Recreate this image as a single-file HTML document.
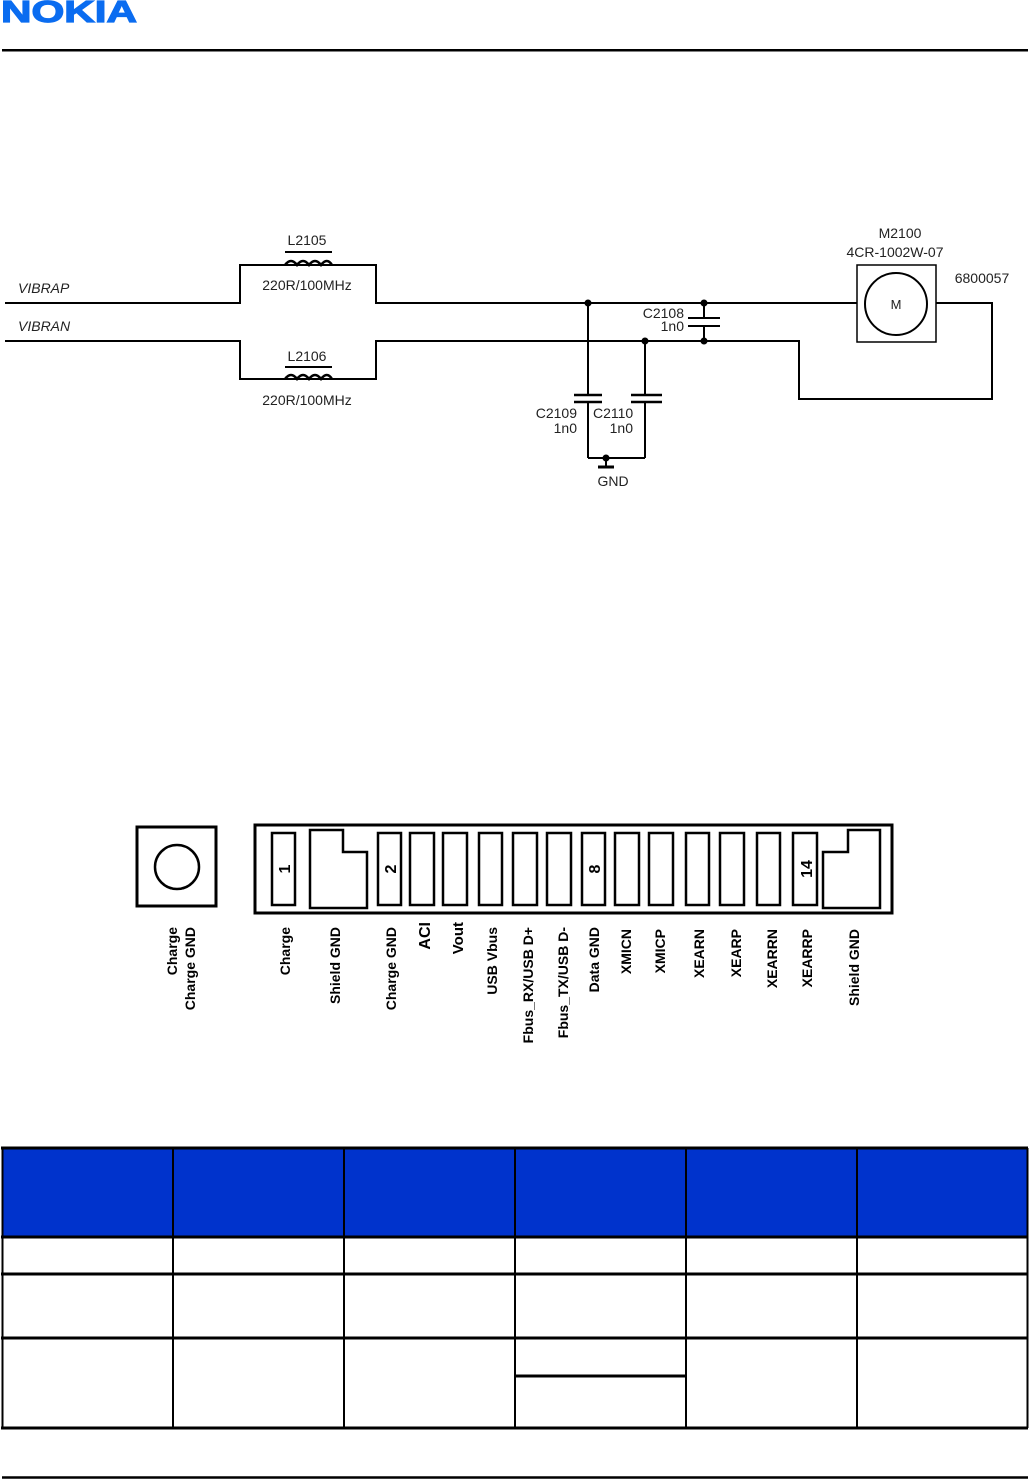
<!DOCTYPE html>
<html><head><meta charset="utf-8"><style>
html,body{margin:0;padding:0;background:#fff}
svg{display:block}
</style></head><body>
<svg width="1030" height="1479" viewBox="0 0 1030 1479" xmlns="http://www.w3.org/2000/svg" font-family="Liberation Sans, sans-serif">
<rect width="1030" height="1479" fill="#fff"/>
<text x="1" y="22" font-size="31" font-weight="bold" fill="#0a6cf0" stroke="#0a6cf0" stroke-width="1.2" textLength="136" lengthAdjust="spacingAndGlyphs">NOKIA</text>
<rect x="2" y="49" width="1026" height="2.5" fill="#000"/>

<g fill="none" stroke="#000" stroke-width="2">
<polyline points="5,303 240,303 240,265 376,265 376,303 857,303"/>
<polyline points="5,341 240,341 240,379 376,379 376,341 799,341 799,399 992,399 992,303 936,303"/>
<line x1="285" y1="252" x2="332" y2="252"/>
<line x1="285" y1="367" x2="332" y2="367"/>
<path d="M285,265 q6,-8 12,0 q6,-8 12,0 q6,-8 12,0 q6,-8 11,0" stroke-width="2.5"/>
<path d="M285,379 q6,-8 12,0 q6,-8 12,0 q6,-8 12,0 q6,-8 11,0" stroke-width="2.5"/>
<line x1="704" y1="303" x2="704" y2="318"/><line x1="704" y1="326" x2="704" y2="341"/>
<line x1="688" y1="318" x2="720" y2="318"/><line x1="688" y1="326" x2="720" y2="326"/>
<line x1="588" y1="303" x2="588" y2="395"/><line x1="588" y1="402" x2="588" y2="458"/>
<line x1="574" y1="395" x2="602" y2="395" stroke-width="2.5"/><line x1="574" y1="402" x2="602" y2="402" stroke-width="2.5"/>
<line x1="645" y1="341" x2="645" y2="395"/><line x1="645" y1="402" x2="645" y2="458"/>
<line x1="631" y1="395" x2="662" y2="395" stroke-width="2.5"/><line x1="631" y1="402" x2="662" y2="402" stroke-width="2.5"/>
<polyline points="588,458 645,458"/>
<line x1="606" y1="458" x2="606" y2="467"/>
<line x1="598" y1="467" x2="614" y2="467" stroke-width="3"/>
<rect x="857" y="265" width="79" height="77" stroke-width="1.5"/>
<circle cx="896" cy="304" r="31" stroke-width="2"/>
</g>
<g fill="#000">
<circle cx="588" cy="303" r="3.5"/><circle cx="704" cy="303" r="3.5"/>
<circle cx="645" cy="341" r="3.5"/><circle cx="704" cy="341" r="3.5"/>
<circle cx="606" cy="458" r="3.5"/>
</g>
<g font-size="14" fill="#222">
<text x="18" y="293" font-style="italic">VIBRAP</text>
<text x="18" y="331" font-style="italic">VIBRAN</text>
<text x="307" y="245" text-anchor="middle">L2105</text>
<text x="307" y="290" text-anchor="middle">220R/100MHz</text>
<text x="307" y="361" text-anchor="middle">L2106</text>
<text x="307" y="405" text-anchor="middle">220R/100MHz</text>
<text x="684" y="318" text-anchor="end">C2108</text>
<text x="684" y="331" text-anchor="end">1n0</text>
<text x="577" y="418" text-anchor="end">C2109</text>
<text x="577" y="433" text-anchor="end">1n0</text>
<text x="593" y="418">C2110</text>
<text x="633" y="433" text-anchor="end">1n0</text>
<text x="613" y="486" text-anchor="middle">GND</text>
<text x="900" y="238" text-anchor="middle">M2100</text>
<text x="895" y="257" text-anchor="middle">4CR-1002W-07</text>
<text x="982" y="283" text-anchor="middle">6800057</text>
<text x="896" y="309" text-anchor="middle" font-size="13">M</text>
</g>

<g fill="none" stroke="#000">
<rect x="137" y="827" width="79" height="79" stroke-width="3"/>
<ellipse cx="177" cy="867" rx="22" ry="22" stroke-width="2.5"/>
<rect x="255" y="825" width="637" height="88" stroke-width="3"/>
<g stroke-width="2.5">
<rect x="272" y="833" width="23" height="72"/>
<path d="M310,830 H343 V852 H367 V908 H310 Z"/>
<rect x="378" y="833" width="23" height="72"/>
<rect x="410" y="833" width="24" height="72"/>
<rect x="443" y="833" width="24" height="72"/>
<rect x="479" y="833" width="23" height="72"/>
<rect x="513" y="833" width="24" height="72"/>
<rect x="547" y="833" width="24" height="72"/>
<rect x="582" y="833" width="23" height="72"/>
<rect x="615" y="833" width="24" height="72"/>
<rect x="649" y="833" width="24" height="72"/>
<rect x="686" y="833" width="23" height="72"/>
<rect x="720" y="833" width="24" height="72"/>
<rect x="757" y="833" width="23" height="72"/>
<rect x="793" y="833" width="24" height="72"/>
<path d="M823,852 H848 V830 H880 V908 H823 Z"/>
</g>
</g>
<g font-weight="bold" font-size="16" fill="#000">
<text transform="translate(290,869) rotate(-90)" text-anchor="middle">1</text>
<text transform="translate(396,869) rotate(-90)" text-anchor="middle">2</text>
<text transform="translate(600,869) rotate(-90)" text-anchor="middle">8</text>
<text transform="translate(812,869) rotate(-90)" text-anchor="middle">14</text>
</g>
<g font-weight="bold" font-size="14" fill="#000" text-anchor="end">
<text transform="translate(177,927) rotate(-90)">Charge</text>
<text transform="translate(195,927) rotate(-90)">Charge GND</text>
<text transform="translate(290,927) rotate(-90)">Charge</text>
<text transform="translate(340,927) rotate(-90)">Shield GND</text>
<text transform="translate(396,927) rotate(-90)">Charge GND</text>
<text transform="translate(430,922) rotate(-90)" font-size="16">ACI</text>
<text transform="translate(463,922) rotate(-90)" font-size="15">Vout</text>
<text transform="translate(497,927) rotate(-90)">USB Vbus</text>
<text transform="translate(533,927) rotate(-90)">Fbus_RX/USB D+</text>
<text transform="translate(568,927) rotate(-90)">Fbus_TX/USB D-</text>
<text transform="translate(599,927) rotate(-90)">Data GND</text>
<text transform="translate(631,929) rotate(-90)">XMICN</text>
<text transform="translate(665,929) rotate(-90)">XMICP</text>
<text transform="translate(704,929) rotate(-90)">XEARN</text>
<text transform="translate(741,929) rotate(-90)">XEARP</text>
<text transform="translate(777,929) rotate(-90)">XEARRN</text>
<text transform="translate(812,929) rotate(-90)">XEARRP</text>
<text transform="translate(859,929) rotate(-90)">Shield GND</text>
</g>

<rect x="2" y="1149" width="1025" height="88" fill="#0033cc"/>
<g stroke="#000" fill="none">
<line x1="1" y1="1148" x2="1028" y2="1148" stroke-width="3"/>
<line x1="1" y1="1237" x2="1028" y2="1237" stroke-width="3"/>
<line x1="1" y1="1274" x2="1028" y2="1274" stroke-width="3"/>
<line x1="1" y1="1338" x2="1028" y2="1338" stroke-width="3"/>
<line x1="1" y1="1428" x2="1028" y2="1428" stroke-width="3"/>
<line x1="514" y1="1376" x2="685" y2="1376" stroke-width="3"/>
<g stroke-width="2">
<line x1="2.5" y1="1148" x2="2.5" y2="1428"/>
<line x1="173" y1="1148" x2="173" y2="1428"/>
<line x1="344" y1="1148" x2="344" y2="1428"/>
<line x1="515" y1="1148" x2="515" y2="1428"/>
<line x1="686" y1="1148" x2="686" y2="1428"/>
<line x1="857" y1="1148" x2="857" y2="1428"/>
<line x1="1027.5" y1="1148" x2="1027.5" y2="1428"/>
</g>
<line x1="2" y1="1477.5" x2="1028" y2="1477.5" stroke-width="2.5"/>
</g>
</svg>
</body></html>
